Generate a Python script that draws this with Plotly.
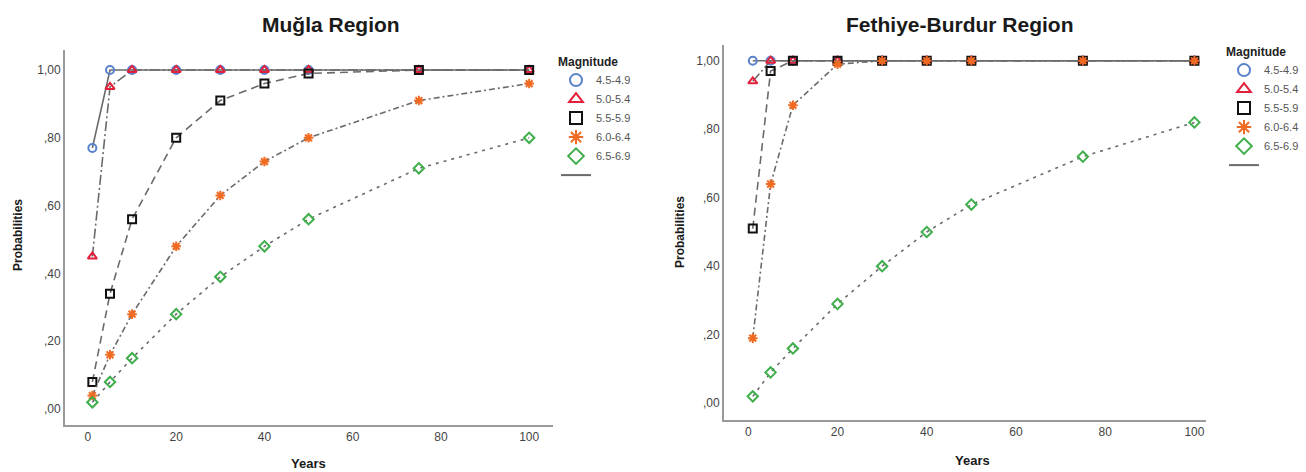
import plotly.graph_objects as go

# Time horizons (years) at which exceedance probabilities were computed
years = [1, 5, 10, 20, 30, 40, 50, 75, 100]
magnitudes = ["4.5-4.9", "5.0-5.4", "5.5-5.9", "6.0-6.4", "6.5-6.9"]

# Muğla region probabilities per magnitude class
mugla_45 = [0.77, 1.00, 1.00, 1.00, 1.00, 1.00, 1.00, 1.00, 1.00]
mugla_50 = [0.45, 0.95, 1.00, 1.00, 1.00, 1.00, 1.00, 1.00, 1.00]
mugla_55 = [0.08, 0.34, 0.56, 0.80, 0.91, 0.96, 0.99, 1.00, 1.00]
mugla_60 = [0.04, 0.16, 0.28, 0.48, 0.63, 0.73, 0.80, 0.91, 0.96]
mugla_65 = [0.02, 0.08, 0.15, 0.28, 0.39, 0.48, 0.56, 0.71, 0.80]

# Fethiye-Burdur region probabilities per magnitude class
fethiye_45 = [1.00, 1.00, 1.00, 1.00, 1.00, 1.00, 1.00, 1.00, 1.00]
fethiye_50 = [0.94, 1.00, 1.00, 1.00, 1.00, 1.00, 1.00, 1.00, 1.00]
fethiye_55 = [0.51, 0.97, 1.00, 1.00, 1.00, 1.00, 1.00, 1.00, 1.00]
fethiye_60 = [0.19, 0.64, 0.87, 0.99, 1.00, 1.00, 1.00, 1.00, 1.00]
fethiye_65 = [0.02, 0.09, 0.16, 0.29, 0.40, 0.50, 0.58, 0.72, 0.82]

y_tickvals = [0.0, 0.2, 0.4, 0.6, 0.8, 1.0]
y_ticktext = [",00", ",20", ",40", ",60", ",80", "1,00"]
x_tickvals = [0, 20, 40, 60, 80, 100]

symbols = ["circle-open", "triangle-up-open", "square-open", "asterisk-open", "diamond-open"]
colors = ["#5A82CC", "#E3203C", "#111111", "#F06A22", "#3FAE4B"]
dashes = ["solid", "10px,3px,2px,3px", "8px,5px", "6px,3px,2px,3px", "3px,5px"]
LINE = "#6A6A6A"
FONT = "Liberation Sans, Arial, sans-serif"

fig = go.Figure()

regions = [
    ([mugla_45, mugla_50, mugla_55, mugla_60, mugla_65], "x", "y", "legend"),
    ([fethiye_45, fethiye_50, fethiye_55, fethiye_60, fethiye_65], "x2", "y2", "legend2"),
]

for series, xa, ya, lg in regions:
    for vals, sym, col, dash in zip(series, symbols, colors, dashes):
        fig.add_trace(go.Scatter(
            x=years, y=vals, xaxis=xa, yaxis=ya, mode="lines+markers",
            line=dict(color=LINE, width=1.6, dash=dash),
            marker=dict(symbol=sym, size=8, color=col, line=dict(width=2, color=col)),
            showlegend=False, hoverinfo="x+y",
        ))
    # legend entries: marker glyphs plus a trailing plain line
    for name, sym, col in zip(magnitudes, symbols, colors):
        fig.add_trace(go.Scatter(
            x=[None], y=[None], xaxis=xa, yaxis=ya, mode="markers", name=name,
            marker=dict(symbol=sym, size=12, color=col, line=dict(width=2, color=col)),
            legend=lg,
        ))
    fig.add_trace(go.Scatter(
        x=[None], y=[None], xaxis=xa, yaxis=ya, mode="lines", name="",
        line=dict(color=LINE, width=2), legend=lg,
    ))

axis_common = dict(
    showgrid=False, zeroline=False, showline=True, linecolor="#9A9A9A",
    linewidth=2, ticks="", tickfont=dict(family=FONT, size=12, color="#444444"),
)

legend_common = dict(
    font=dict(family=FONT, size=11, color="#555555"),
    title=dict(text="<b>Magnitude</b>", font=dict(family=FONT, size=12, color="#222222")),
    bgcolor="rgba(0,0,0,0)", itemwidth=30, tracegroupgap=0,
)


def label(text, x, y, size, angle=0):
    return dict(text=text, x=x / 1306, y=1 - y / 472, xref="paper", yref="paper",
                xanchor="center", yanchor="middle", showarrow=False, textangle=angle,
                font=dict(family=FONT, size=size, color="#1A1A1A"))


fig.update_layout(
    width=1306, height=472,
    margin=dict(l=0, r=0, t=0, b=0),
    paper_bgcolor="white", plot_bgcolor="white",
    font=dict(family=FONT),
    xaxis=dict(domain=[65 / 1306, 553 / 1306], range=[-5.2, 105.4],
               tickvals=x_tickvals, **axis_common),
    yaxis=dict(domain=[1 - 425 / 472, 1 - 50 / 472], range=[-0.047, 1.059],
               tickvals=y_tickvals, ticktext=y_ticktext, **axis_common),
    xaxis2=dict(domain=[724 / 1306, 1206 / 1306], range=[-5.45, 102.6],
                tickvals=x_tickvals, anchor="y2", **axis_common),
    yaxis2=dict(domain=[1 - 420 / 472, 1 - 45 / 472], range=[-0.049, 1.046],
                tickvals=y_tickvals, ticktext=y_ticktext, anchor="x2", **axis_common),
    legend=dict(x=556 / 1306, y=1 - 50 / 472, xanchor="left", yanchor="top", **legend_common),
    legend2=dict(x=1224 / 1306, y=1 - 40 / 472, xanchor="left", yanchor="top", **legend_common),
    annotations=[
        label("<b>Muğla Region</b>", 331, 25, 21),
        label("<b>Fethiye-Burdur Region</b>", 960, 25, 21),
        label("<b>Probabilities</b>", 18, 235, 12, -90),
        label("<b>Probabilities</b>", 680, 232, 12, -90),
        label("<b>Years</b>", 308, 463, 13),
        label("<b>Years</b>", 972, 460, 13),
    ],
)

fig.write_html("out.html")
